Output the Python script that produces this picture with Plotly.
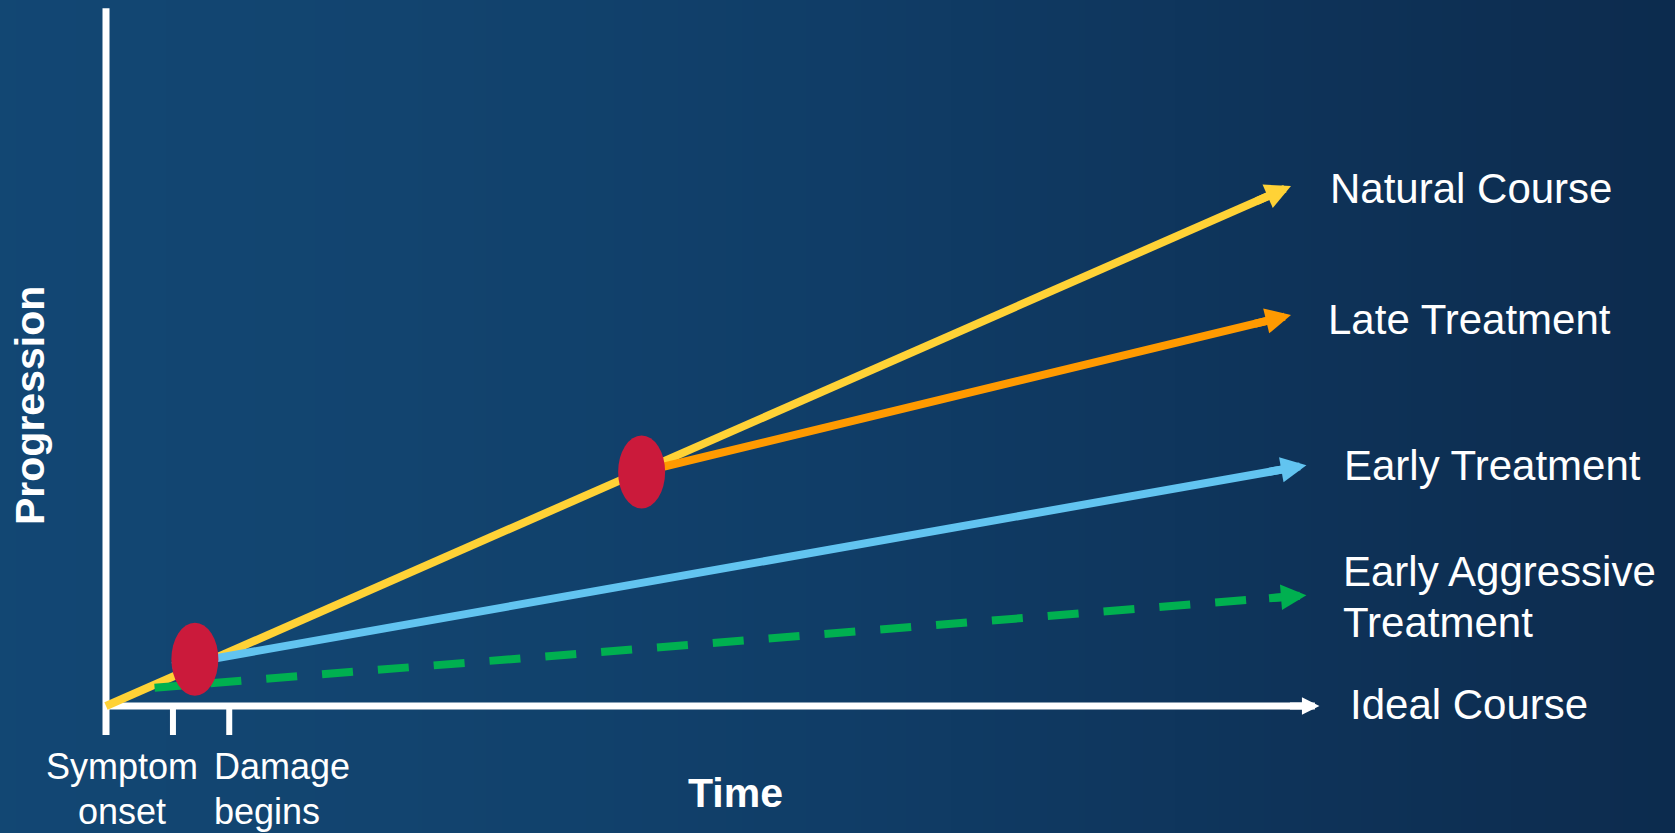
import numpy as np
import plotly.graph_objects as go

# ---------------------------------------------------------------
# Disease progression over time under different treatment courses
# x: time (arbitrary units), y: progression (arbitrary units)
# ---------------------------------------------------------------
course_names = ["Natural Course", "Late Treatment", "Early Treatment",
                "Early Aggressive<br>Treatment"]
course_t_start = [0.00, 4.52, 0.56, 0.41]
course_y_start = [0.00, 4.50, 0.77, 0.35]
course_t_end = [10.00, 10.00, 10.13, 10.13]
course_y_end = [10.00, 7.52, 4.63, 2.13]

ideal_name = "Ideal Course"
ideal_t_end = 10.24          # ideal course stays on the time axis (no progression)
progression_axis_top = 13.42

milestone_t = [0.0, 0.565, 1.04]            # origin, symptom onset, damage begins
milestone_labels = ["Symptom<br>onset", "Damage<br>begins"]

intervention_t = [0.75, 4.52]               # start of early / late treatment
intervention_y = [0.90, 4.50]

# ---------------- styling ----------------
FONT = "Liberation Sans, Arial, sans-serif"
W, H = 1675, 833
PX_X, PX_Y = 118.5, 52.0                    # pixels per data unit
ORIGIN_PX = (106, 706)
X_RANGE = [-ORIGIN_PX[0] / PX_X, (W - ORIGIN_PX[0]) / PX_X]
Y_RANGE = [-(H - ORIGIN_PX[1]) / PX_Y, ORIGIN_PX[1] / PX_Y]

course_colors = ["#FFD236", "#FF9A00", "#62C4F0", "#00B050"]
course_dash = ["solid", "solid", "solid", "31px,25px"]
course_width = [8, 8, 8, 8]
HEAD_SCALE = 5.1                            # arrowhead scale in px per path unit
AXIS_W = 7
ideal_label_px = (1348, 704)
tick_len = 29 / PX_Y
ellipse_w, ellipse_h = 47 / PX_X, 73 / PX_Y
RED = "#CB1A3B"
WHITE = "#FFFFFF"


def px_to_paper(px, py):
    return px / W, 1 - py / H


def back_off(t0, y0, t1, y1, dist_px):
    """Point on the segment dist_px pixels before its end."""
    dx, dy = (t1 - t0) * PX_X, (y1 - y0) * PX_Y
    length = np.hypot(dx, dy)
    f = dist_px / length
    return t1 - f * (t1 - t0), y1 - f * (y1 - y0)


fig = go.Figure()

# background gradient
gx = np.linspace(X_RANGE[0] - 0.5, X_RANGE[1] + 0.5, 5)
fig.add_trace(go.Heatmap(
    x=gx, y=[Y_RANGE[0] - 1, Y_RANGE[1] + 1],
    z=[[0, 0.3, 0.55, 0.8, 1.0]] * 2,
    colorscale=[[0, "#124774"], [0.3, "#12446F"], [0.55, "#103D67"],
                [0.8, "#0E3359"], [1, "#0C2A4C"]],
    zsmooth="best", showscale=False, hoverinfo="skip"))

# progression axis (extends down to form the origin tick)
fig.add_trace(go.Scatter(
    x=[0, 0], y=[-tick_len, progression_axis_top], mode="lines",
    line=dict(color=WHITE, width=AXIS_W), hoverinfo="skip"))

# milestone ticks below the time axis
tx, ty = [], []
for t in milestone_t[1:]:
    tx += [t, t, None]
    ty += [0, -tick_len, None]
fig.add_trace(go.Scatter(x=tx, y=ty, mode="lines",
                         line=dict(color=WHITE, width=AXIS_W - 1),
                         hoverinfo="skip"))

annotations = []

# time axis = ideal course
it, iy = back_off(0, 0, ideal_t_end, 0, 10)
fig.add_trace(go.Scatter(x=[-0.02, it], y=[0, 0], mode="lines",
                         line=dict(color=WHITE, width=AXIS_W), name=ideal_name,
                         hoverinfo="skip"))
at, ay = back_off(0, 0, ideal_t_end, 0, 30)
annotations.append(dict(x=ideal_t_end, y=0, ax=at, ay=ay, xref="x", yref="y",
                        axref="x", ayref="y", text="", showarrow=True,
                        arrowhead=2, arrowsize=3.5 / AXIS_W, arrowwidth=AXIS_W,
                        arrowcolor=WHITE, standoff=0, borderpad=0))

# treatment courses
for name, t0, y0, t1, y1, c, d, w in zip(course_names, course_t_start,
                                         course_y_start, course_t_end,
                                         course_y_end, course_colors,
                                         course_dash, course_width):
    et, ey = back_off(t0, y0, t1, y1, 12)
    fig.add_trace(go.Scatter(x=[t0, et], y=[y0, ey], mode="lines",
                             line=dict(color=c, width=w, dash=d),
                             name=name.replace("<br>", " "), hoverinfo="skip"))
    at, ay = back_off(t0, y0, t1, y1, 38)
    annotations.append(dict(x=t1, y=y1, ax=at, ay=ay, xref="x", yref="y",
                            axref="x", ayref="y", text="", showarrow=True,
                            arrowhead=2, arrowsize=HEAD_SCALE / w, arrowwidth=w,
                            arrowcolor=c, standoff=0, borderpad=0))

# intervention points
shapes = []
for t, y in zip(intervention_t, intervention_y):
    shapes.append(dict(type="circle", xref="x", yref="y",
                       x0=t - ellipse_w / 2, x1=t + ellipse_w / 2,
                       y0=y - ellipse_h / 2, y1=y + ellipse_h / 2,
                       fillcolor=RED, line=dict(width=0), layer="above"))

# course labels
right_labels = ["Natural Course", "Late Treatment", "Early Treatment",
                "Early Aggressive", "Treatment"]
right_pos = [(1328, 189), (1326, 319), (1342, 465), (1341, 571), (1341, 622)]
for txt, (px, py) in zip(right_labels + [ideal_name],
                         right_pos + [ideal_label_px]):
    xp, yp = px_to_paper(px, py)
    annotations.append(dict(x=xp, y=yp, xref="paper", yref="paper", text=txt,
                            showarrow=False, xanchor="left", yanchor="middle",
                            font=dict(family=FONT, size=42, color=WHITE)))

# milestone labels
for txt, (px, py) in zip(["Symptom", "onset"], [(122, 766), (122, 811)]):
    xp, yp = px_to_paper(px, py)
    annotations.append(dict(x=xp, y=yp, xref="paper", yref="paper", text=txt,
                            showarrow=False, xanchor="center", yanchor="middle",
                            font=dict(family=FONT, size=36, color=WHITE)))
for txt, (px, py) in zip(["Damage", "begins"], [(212, 766), (212, 811)]):
    xp, yp = px_to_paper(px, py)
    annotations.append(dict(x=xp, y=yp, xref="paper", yref="paper", text=txt,
                            showarrow=False, xanchor="left", yanchor="middle",
                            font=dict(family=FONT, size=36, color=WHITE)))

# axis titles
xp, yp = px_to_paper(735, 793)
annotations.append(dict(x=xp, y=yp, xref="paper", yref="paper",
                        text="<b>Time</b>", showarrow=False,
                        xanchor="center", yanchor="middle",
                        font=dict(family=FONT, size=41, color=WHITE)))
xp, yp = px_to_paper(30, 406)
annotations.append(dict(x=xp, y=yp, xref="paper", yref="paper",
                        text="<b>Progression</b>", showarrow=False,
                        textangle=-90, xanchor="center", yanchor="middle",
                        font=dict(family=FONT, size=41, color=WHITE)))

fig.update_layout(
    width=W, height=H, margin=dict(l=0, r=0, t=0, b=0),
    paper_bgcolor="#103F6A", plot_bgcolor="#103F6A",
    showlegend=False,
    xaxis=dict(range=X_RANGE, visible=False, fixedrange=True),
    yaxis=dict(range=Y_RANGE, visible=False, fixedrange=True),
    shapes=shapes, annotations=annotations,
)

fig.write_html("out.html", config={"displayModeBar": False})
